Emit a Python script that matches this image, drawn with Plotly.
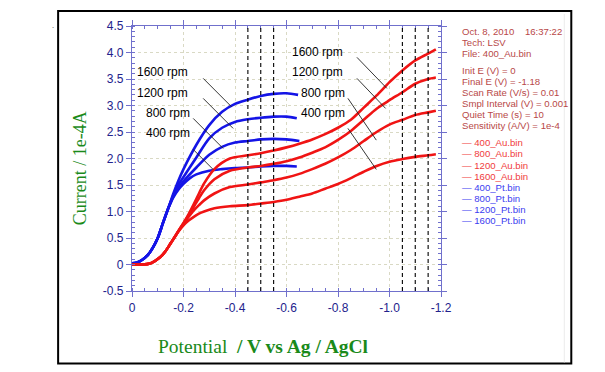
import plotly.graph_objects as go

# ---------------- data ----------------
pt_rise_v = [0, -0.02, -0.04, -0.06, -0.08, -0.10, -0.12, -0.14]
pt_rise_i = [0.02, 0.04, 0.09, 0.17, 0.31, 0.50, 0.78, 1.05]

pt1600_v = [-0.15, -0.16, -0.18, -0.20, -0.25, -0.30, -0.35, -0.40, -0.45, -0.50, -0.55, -0.60, -0.645]
pt1600_i = [1.19, 1.33, 1.58, 1.80, 2.26, 2.63, 2.88, 3.03, 3.11, 3.18, 3.22, 3.23, 3.20]
pt1200_v = [-0.15, -0.16, -0.18, -0.20, -0.25, -0.30, -0.35, -0.40, -0.45, -0.50, -0.55, -0.60, -0.64]
pt1200_i = [1.18, 1.30, 1.50, 1.65, 2.02, 2.38, 2.58, 2.69, 2.74, 2.77, 2.79, 2.79, 2.76]
pt800_v = [-0.15, -0.16, -0.18, -0.20, -0.25, -0.30, -0.35, -0.40, -0.45, -0.50, -0.55, -0.60, -0.65]
pt800_i = [1.17, 1.28, 1.44, 1.57, 1.83, 2.07, 2.22, 2.30, 2.33, 2.36, 2.37, 2.36, 2.33]
pt400_v = [-0.15, -0.16, -0.18, -0.20, -0.225, -0.25, -0.30, -0.35, -0.40, -0.45, -0.50, -0.55, -0.60, -0.64]
pt400_i = [1.16, 1.26, 1.41, 1.52, 1.63, 1.70, 1.77, 1.80, 1.82, 1.83, 1.85, 1.86, 1.86, 1.85]

au_rise_v = [0, -0.04, -0.07, -0.09, -0.11, -0.13, -0.15, -0.17]
au_rise_i = [0.0, 0.0, 0.02, 0.07, 0.14, 0.25, 0.40, 0.55]

au_v = [-0.18, -0.20, -0.22, -0.24, -0.26, -0.28, -0.32, -0.38, -0.45, -0.50, -0.55, -0.60,
        -0.65, -0.70, -0.75, -0.80, -0.85, -0.90, -0.95, -1.00, -1.05, -1.10, -1.15, -1.18]
au400_i = [0.62, 0.74, 0.83, 0.90, 0.96, 1.00, 1.06, 1.10, 1.12, 1.15, 1.18, 1.22,
           1.28, 1.34, 1.43, 1.52, 1.63, 1.75, 1.86, 1.94, 1.99, 2.03, 2.06, 2.08]
au800_i = [0.63, 0.77, 0.90, 1.02, 1.12, 1.21, 1.34, 1.46, 1.51, 1.55, 1.59, 1.64,
           1.71, 1.80, 1.90, 2.02, 2.16, 2.33, 2.50, 2.64, 2.73, 2.82, 2.87, 2.90]
au1200_i = [0.63, 0.78, 0.93, 1.09, 1.25, 1.40, 1.61, 1.77, 1.83, 1.86, 1.90, 1.95,
            2.02, 2.11, 2.21, 2.35, 2.52, 2.73, 2.94, 3.10, 3.25, 3.41, 3.50, 3.53]
au1600_i = [0.63, 0.78, 0.95, 1.14, 1.34, 1.53, 1.80, 2.00, 2.06, 2.10, 2.15, 2.21,
            2.28, 2.36, 2.46, 2.58, 2.73, 2.96, 3.19, 3.44, 3.66, 3.85, 3.98, 4.06]

dashed_potentials = [-0.45, -0.50, -0.55, -1.05, -1.10, -1.15]

x_tickvals = [0, -0.2, -0.4, -0.6, -0.8, -1.0, -1.2]
x_ticktext = ["0", "-0.2", "-0.4", "-0.6", "-0.8", "-1.0", "-1.2"]
y_tickvals = [-0.5, 0, 0.5, 1.0, 1.5, 2.0, 2.5, 3.0, 3.5, 4.0, 4.5]
y_ticktext = ["-0.5", "0", "0.5", "1.0", "1.5", "2.0", "2.5", "3.0", "3.5", "4.0", "4.5"]

rpm_labels = ["1600 rpm", "1200 rpm", "800 rpm", "400 rpm"]

info_lines = ["Oct. 8, 2010\u00a0\u00a0\u00a0 16:37:22", "Tech: LSV", "File: 400_Au.bin",
              "Init E (V) = 0", "Final E (V) = -1.18", "Scan Rate (V/s) = 0.01",
              "Smpl Interval (V) = 0.001", "Quiet Time (s) = 10", "Sensitivity (A/V) = 1e-4"]
legend_au = ["400_Au.bin", "800_Au.bin", "1200_Au.bin", "1600_Au.bin"]
legend_pt = ["400_Pt.bin", "800_Pt.bin", "1200_Pt.bin", "1600_Pt.bin"]

RED = "#f01414"
BLUE = "#1414e6"

# ---------------- figure ----------------
W, H = 605, 372
L, R, T, B = 132, 163.5, 26, 81.3
PW, PH = W - L - R, H - T - B


def px(xp):
    return (xp - L) / PW


def py(yp):
    return (H - B - yp) / PH


fig = go.Figure()

pt_curves = [(pt400_v, pt400_i), (pt800_v, pt800_i), (pt1200_v, pt1200_i), (pt1600_v, pt1600_i)]
au_curves = [au400_i, au800_i, au1200_i, au1600_i]

for (v, i) in pt_curves:
    fig.add_trace(go.Scatter(x=pt_rise_v + v, y=pt_rise_i + i, mode="lines",
                             line=dict(color=BLUE, width=2.6, shape="spline", smoothing=0.8),
                             hoverinfo="skip", showlegend=False))
for i in au_curves:
    fig.add_trace(go.Scatter(x=au_rise_v + au_v, y=au_rise_i + i, mode="lines",
                             line=dict(color=RED, width=2.6, shape="spline", smoothing=0.8),
                             hoverinfo="skip", showlegend=False))

shapes = []
for xv in dashed_potentials:
    shapes.append(dict(type="line", xref="x", yref="paper", x0=xv, x1=xv, y0=0, y1=1,
                       line=dict(color="black", width=1.1, dash="4px,3px"), layer="above"))

# outer frame and faint panel divider
shapes.append(dict(type="rect", xref="paper", yref="paper", x0=px(58), x1=px(572),
                   y0=py(363), y1=py(11), line=dict(color="black", width=2)))
shapes.append(dict(type="line", xref="paper", yref="paper", x0=px(565), x1=px(565),
                   y0=py(362), y1=py(14), line=dict(color="#ebebeb", width=1)))

# leader lines (pixel endpoints)
leaders = [((203.3, 78.3), (231.7, 106.7)), ((203.3, 98.3), (233.3, 128.3)),
           ((193.3, 118.3), (223.3, 148.3)), ((193.3, 149.3), (213.3, 169.3)),
           ((357.3, 57.3), (387.3, 88.3)), ((357.3, 78.3), (386.0, 108.3)),
           ((348.3, 98.3), (376.7, 140.0)), ((348.3, 128.3), (376.7, 169.3))]
for (a, b) in leaders:
    shapes.append(dict(type="line", xref="paper", yref="paper", x0=px(a[0]), y0=py(a[1]),
                       x1=px(b[0]), y1=py(b[1]), line=dict(color="#202020", width=0.9)))

annotations = []
left_pos = [(135, 72.3), (135, 92.7), (144.3, 113.3), (144.3, 133.3)]
right_pos = [(290, 52.3), (290, 72.3), (299, 92.7), (299, 112.7)]
for lab, (xp, yp) in zip(rpm_labels, left_pos):
    annotations.append(dict(text=lab, xref="paper", yref="paper", x=px(xp), y=py(yp),
                            xanchor="left", yanchor="middle", showarrow=False,
                            font=dict(family="Liberation Sans, Arial", size=12, color="black")))
for lab, (xp, yp) in zip(rpm_labels, right_pos):
    annotations.append(dict(text=lab, xref="paper", yref="paper", x=px(xp), y=py(yp),
                            xanchor="left", yanchor="middle", showarrow=False,
                            font=dict(family="Liberation Sans, Arial", size=12, color="black")))

info_y = [31.7, 42.5, 53.3, 70.7, 81.5, 92.5, 103.5, 114.7, 125.8]
for txt, yp in zip(info_lines, info_y):
    annotations.append(dict(text=txt, xref="paper", yref="paper", x=px(461), y=py(yp),
                            xanchor="left", yanchor="middle", showarrow=False,
                            font=dict(family="Liberation Sans, Arial", size=9.6, color="#b84848")))
leg_y0 = 142.7
for k, txt in enumerate(legend_au + legend_pt):
    col = "#f03c3c" if k < 4 else "#3c3cf0"
    annotations.append(dict(text="\u2014 " + txt, xref="paper", yref="paper", x=px(461),
                            y=py(leg_y0 + 11.15 * k), xanchor="left", yanchor="middle",
                            showarrow=False,
                            font=dict(family="Liberation Sans, Arial", size=9.6, color=col)))

GREEN = "#1a8a1a"
annotations.append(dict(text="Potential\u00a0\u00a0<b>/ V vs Ag / AgCl</b>", xref="paper", yref="paper",
                        x=px(263.5), y=py(346), xanchor="center", yanchor="middle",
                        showarrow=False,
                        font=dict(family="Liberation Serif, Times New Roman", size=19.5, color=GREEN)))
annotations.append(dict(text="Current / 1e-4A", xref="paper", yref="paper",
                        x=px(80), y=py(168), xanchor="center", yanchor="middle", textangle=-90,
                        showarrow=False,
                        font=dict(family="Liberation Serif, Times New Roman", size=18, color=GREEN)))
annotations.append(dict(text=".", xref="paper", yref="paper", x=px(50), y=py(17),
                        showarrow=False, font=dict(size=8, color="#555")))

AXC = "#7070cc"
TICKF = dict(family="Liberation Sans Narrow, Arial Narrow, Liberation Sans", size=12, color="#22228c")

fig.update_layout(
    width=W, height=H,
    margin=dict(l=L, r=R, t=T, b=B, pad=0),
    paper_bgcolor="white", plot_bgcolor="white",
    shapes=shapes, annotations=annotations,
    xaxis=dict(range=[0, -1.2], tickvals=x_tickvals, ticktext=x_ticktext,
               showline=True, linecolor=AXC, linewidth=1.3, mirror="ticks",
               ticks="outside", ticklen=5, tickcolor=AXC, tickwidth=1,
               minor=dict(dtick=0.05, ticks="inside", ticklen=3, tickcolor=AXC, showgrid=False),
               showgrid=True, gridcolor="#d9d9c4", griddash="dot", gridwidth=1,
               zeroline=False, tickfont=TICKF, fixedrange=True),
    yaxis=dict(range=[-0.5, 4.5], tickvals=y_tickvals, ticktext=y_ticktext,
               showline=True, linecolor=AXC, linewidth=1.3, mirror="ticks",
               ticks="outside", ticklen=5, tickcolor=AXC, tickwidth=1,
               minor=dict(dtick=0.1, ticks="inside", ticklen=3, tickcolor=AXC, showgrid=False),
               showgrid=True, gridcolor="#d9d9c4", griddash="dot", gridwidth=1,
               zeroline=False, tickfont=TICKF, fixedrange=True),
    showlegend=False,
)

fig.write_html("out.html", config={"displayModeBar": False},
               post_script="document.body.style.margin='0';document.body.style.overflow='hidden';")
